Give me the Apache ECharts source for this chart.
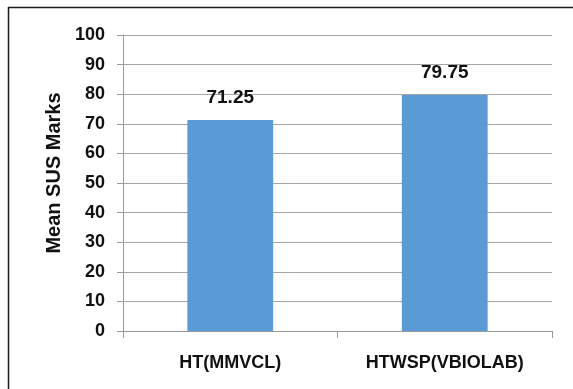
<!DOCTYPE html>
<html>
<head>
<meta charset="utf-8">
<script src="https://cdn.jsdelivr.net/npm/echarts@6/dist/echarts.min.js"></script>
<style>
  html, body { margin: 0; padding: 0; background: #ffffff; }
  #chart { width: 573px; height: 389px; }
</style>
</head>
<body>
<div id="chart"></div>
<script>
// Mean SUS marks per system
const categories = ['HT(MMVCL)', 'HTWSP(VBIOLAB)'];
const meanSus = [71.25, 79.75];
const yTicks = { min: 0, max: 100, step: 10 };

const FONT = '"Liberation Sans", Arial, sans-serif';
const chart = echarts.init(document.getElementById('chart'), null, { renderer: 'canvas' });

chart.setOption({
  backgroundColor: '#ffffff',
  animation: false,
  graphic: [
    // frame lines along the top and left edges
    { type: 'line', shape: { x1: 8, y1: 7.5, x2: 573, y2: 7.5 }, style: { stroke: '#1a1a1a', lineWidth: 1.5 } },
    { type: 'line', shape: { x1: 8.5, y1: 7, x2: 8.5, y2: 389 }, style: { stroke: '#1a1a1a', lineWidth: 1.5 } }
  ],
  grid: { left: 123, right: 21, top: 35, bottom: 58 },
  xAxis: {
    type: 'category',
    data: categories,
    axisLine: { lineStyle: { color: '#9a9a9a', width: 1 } },
    axisTick: { show: true, length: 7, lineStyle: { color: '#9a9a9a' } },
    axisLabel: {
      margin: 23,
      color: '#111111',
      fontFamily: FONT,
      fontWeight: 'bold',
      fontSize: 18
    }
  },
  yAxis: {
    type: 'value',
    min: yTicks.min,
    max: yTicks.max,
    interval: yTicks.step,
    name: 'Mean SUS Marks',
    nameLocation: 'middle',
    nameRotate: 90,
    nameGap: 59,
    nameTextStyle: {
      color: '#111111',
      fontFamily: FONT,
      fontWeight: 'bold',
      fontSize: 20,
      padding: [0, 0, 0, 20]
    },
    axisLine: { show: true, lineStyle: { color: '#9a9a9a', width: 1 } },
    axisTick: { show: true, length: 6, lineStyle: { color: '#9a9a9a' } },
    splitLine: { show: true, lineStyle: { color: '#a6a6a6', width: 1 } },
    axisLabel: {
      margin: 18,
      color: '#111111',
      fontFamily: FONT,
      fontWeight: 'bold',
      fontSize: 18
    }
  },
  series: [{
    type: 'bar',
    data: meanSus,
    barWidth: '40%',
    itemStyle: { color: '#5B9BD5' },
    label: {
      show: true,
      position: 'top',
      distance: 13,
      color: '#111111',
      fontFamily: FONT,
      fontWeight: 'bold',
      fontSize: 19,
      formatter: p => p.value.toFixed(2)
    }
  }]
});
</script>
</body>
</html>
